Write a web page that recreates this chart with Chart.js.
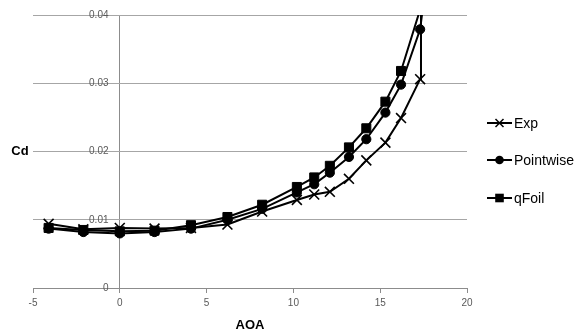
<!DOCTYPE html>
<html>
<head>
<meta charset="utf-8">
<script src="https://cdn.jsdelivr.net/npm/chart.js@4.4.0/dist/chart.umd.min.js"></script>
<style>
  html, body { margin: 0; padding: 0; background: #fff; }
  #wrap { width: 587px; height: 333px; position: relative; }
</style>
</head>
<body>
<div id="wrap"><canvas id="cdChart"></canvas></div>
<script>
// AOA (deg) for each series; last point of each runs off the top of the plot
const expAoa       = [-4.1, -2.1, 0, 2, 4.1, 6.2, 8.2, 10.2, 11.2, 12.1, 13.2, 14.2, 15.3, 16.2, 17.3, 17.35];
const pointwiseAoa = [-4.1, -2.1, 0, 2, 4.1, 6.2, 8.2, 10.2, 11.2, 12.1, 13.2, 14.2, 15.3, 16.2, 17.3, 18.3];
const qfoilAoa     = [-4.1, -2.1, 0, 2, 4.1, 6.2, 8.2, 10.2, 11.2, 12.1, 13.2, 14.2, 15.3, 16.2, 17.3, 18.3];

const expCd       = [0.0094, 0.0086, 0.0088, 0.0087, 0.0088, 0.0093, 0.0112, 0.0129, 0.0137, 0.0141, 0.0160, 0.0187, 0.0213, 0.0249, 0.0306, 0.050];
const pointwiseCd = [0.0087, 0.0082, 0.0080, 0.0082, 0.0087, 0.0100, 0.0116, 0.0140, 0.0152, 0.0169, 0.0192, 0.0218, 0.0257, 0.0298, 0.0379, 0.058];
const qfoilCd     = [0.0088, 0.0085, 0.0083, 0.0084, 0.0092, 0.0104, 0.0122, 0.0148, 0.0162, 0.0179, 0.0206, 0.0234, 0.0273, 0.0318, 0.0408, 0.060];

const xTicks = [-5, 0, 5, 10, 15, 20];
const yTicks = [0, 0.01, 0.02, 0.03, 0.04];

const seriesNames = ["Exp", "Pointwise", "qFoil"];
const seriesMarkers = ["crossRot", "circle", "rect"];

function toPoints(xs, ys) {
  return xs.map((x, i) => ({ x: x, y: ys[i] }));
}

const FONT = "'Liberation Sans', Arial, sans-serif";
const AXIS_GREY = "#8c8c8c";

// legend + "Cd" label, drawn like the Excel original
const extrasPlugin = {
  id: "extras",
  afterDraw(chart) {
    const ctx = chart.ctx;
    ctx.save();
    ctx.fillStyle = "#000";
    ctx.font = "bold 13px " + FONT;
    ctx.textAlign = "center";
    ctx.textBaseline = "middle";
    ctx.fillText("Cd", 20, (chart.chartArea.top + chart.chartArea.bottom) / 2);

    const rows = [123, 160, 198];
    ctx.font = "14px " + FONT;
    ctx.textAlign = "left";
    rows.forEach((y, i) => {
      ctx.strokeStyle = "#000";
      ctx.lineWidth = 2;
      ctx.beginPath();
      ctx.moveTo(487, y);
      ctx.lineTo(512, y);
      ctx.stroke();
      const cx = 499.5;
      ctx.fillStyle = "#000";
      ctx.beginPath();
      if (seriesMarkers[i] === "crossRot") {
        ctx.lineWidth = 1.5;
        ctx.moveTo(cx - 4, y - 4); ctx.lineTo(cx + 4, y + 4);
        ctx.moveTo(cx - 4, y + 4); ctx.lineTo(cx + 4, y - 4);
        ctx.stroke();
      } else if (seriesMarkers[i] === "circle") {
        ctx.arc(cx, y, 4.3, 0, Math.PI * 2);
        ctx.fill();
      } else {
        ctx.rect(cx - 4.3, y - 4.3, 8.6, 8.6);
        ctx.fill();
      }
      ctx.fillText(seriesNames[i], 514, y + 1);
    });
    ctx.restore();
  }
};

function makeSet(label, pts, style, radius, order) {
  return {
    label: label,
    data: pts,
    showLine: true,
    borderColor: "#000",
    backgroundColor: "#000",
    borderWidth: 2,
    pointStyle: style,
    pointRadius: radius,
    pointBorderWidth: style === "crossRot" ? 1.6 : 1,
    pointBorderColor: "#000",
    pointBackgroundColor: "#000",
    tension: 0,
    clip: 0,
    order: order
  };
}

function createChart() {
  const ctx = document.getElementById("cdChart").getContext("2d");
  new Chart(ctx, {
    type: "scatter",
    data: {
      datasets: [
        makeSet("Exp", toPoints(expAoa, expCd), "crossRot", 7, 2),
        makeSet("Pointwise", toPoints(pointwiseAoa, pointwiseCd), "circle", 4.6, 1),
        makeSet("qFoil", toPoints(qfoilAoa, qfoilCd), "rect", 6.4, 0)
      ]
    },
    options: {
      responsive: true,
      maintainAspectRatio: false,
      animation: false,
      layout: { padding: { left: 33, right: 120, top: 15, bottom: 0 } },
      scales: {
        x: {
          type: "linear",
          min: -5,
          max: 20,
          afterBuildTicks(scale) { scale.ticks = xTicks.map(v => ({ value: v })); },
          afterFit(scale) { scale.height = 45; },
          grid: {
            drawOnChartArea: true,
            drawTicks: true,
            tickLength: 5,
            // only the AOA = 0 line is drawn: it acts as the vertical axis
            color: c => (c.tick && c.tick.value === 0 ? AXIS_GREY : "rgba(0,0,0,0)"),
            tickColor: AXIS_GREY
          },
          border: { color: AXIS_GREY, width: 1 },
          ticks: { color: "#595959", font: { family: FONT, size: 10 }, padding: 4, maxRotation: 0 },
          title: { display: true, text: "AOA", color: "#000", font: { family: FONT, size: 13, weight: "bold" }, padding: { top: 2, bottom: 0 } }
        },
        y: {
          type: "linear",
          // labels sit just left of the AOA = 0 line
          position: { x: -0.65 },
          min: 0,
          max: 0.04,
          afterBuildTicks(scale) { scale.ticks = yTicks.map(v => ({ value: v })); },
          grid: { color: "#a6a6a6", drawTicks: false, tickLength: 0 },
          border: { display: false },
          ticks: { color: "#595959", font: { family: FONT, size: 10 }, callback: v => String(v) }
        }
      },
      plugins: {
        legend: { display: false },
        tooltip: { enabled: false }
      }
    },
    plugins: [extrasPlugin]
  });
}

window.addEventListener("load", createChart);
</script>
</body>
</html>
